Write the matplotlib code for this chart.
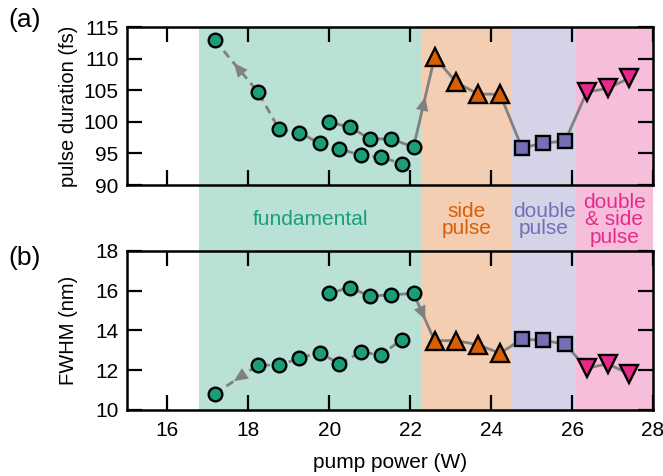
import matplotlib
matplotlib.use("Agg")
import matplotlib.pyplot as plt
import matplotlib.transforms as mtransforms

plt.rcParams['font.family'] = ['Liberation Sans', 'DejaVu Sans']
plt.rcParams['font.size'] = 15

# pump power (W) for each regime; fundamental split in two branches
power_up = [20.0, 20.5, 21.0, 21.53, 22.08]
power_down = [17.17, 18.24, 18.76, 19.26, 19.76, 20.25, 20.77, 21.27, 21.79]
power_side = [22.6, 23.14, 23.67, 24.22]
power_double = [24.76, 25.29, 25.83]
power_dside = [26.36, 26.88, 27.41]

# (a) pulse duration (fs)
dur_up = [99.9, 99.2, 97.3, 97.3, 96.0]
dur_down = [112.9, 104.7, 98.8, 98.3, 96.6, 95.75, 94.7, 94.4, 93.4]
dur_side = [110.2, 106.25, 104.4, 104.35]
dur_double = [95.9, 96.6, 97.0]
dur_dside = [104.7, 105.3, 106.9]

# (b) FWHM (nm)
fwhm_up = [15.87, 16.16, 15.74, 15.79, 15.87]
fwhm_down = [10.81, 12.27, 12.24, 12.61, 12.89, 12.32, 12.91, 12.77, 13.54]
fwhm_side = [13.49, 13.49, 13.28, 12.86]
fwhm_double = [13.56, 13.51, 13.31]
fwhm_dside = [12.1, 12.32, 11.82]

regimes = ["fundamental", "side\npulse", "double\npulse", "double\n& side\npulse"]
regime_edges = [16.79, 22.27, 24.52, 26.09, 28.0]
colors = ["#1b9e77", "#d95f02", "#7570b3", "#e7298a"]
markers = ["o", "^", "s", "v"]
msizes = [9.8, 13, 9.8, 13]

line_col = "#808080"

fig = plt.figure(figsize=(6.63, 4.76), dpi=100)

left, width = 0.1916, 0.7934
bg = fig.add_axes([left, 0.1387, width, 0.9433 - 0.1387], zorder=0)
ax_a = fig.add_axes([left, 0.6113, width, 0.3319], zorder=1)
ax_b = fig.add_axes([left, 0.1387, width, 0.334], zorder=1)

# shaded regimes behind both panels
bg.set_xlim(15, 28)
bg.set_ylim(0, 1)
bg.axis("off")
lbl_trans = mtransforms.blended_transform_factory(bg.transData, fig.transFigure)
for i, name in enumerate(regimes):
    x0, x1 = regime_edges[i], regime_edges[i + 1]
    bg.axvspan(x0, x1, color=colors[i], alpha=0.3, lw=0)
    bg.text((x0 + x1) / 2, 0.538, name, transform=lbl_trans, ha="center",
            va="center", color=colors[i], fontsize=15, linespacing=0.92)


def mid_arrow(ax, x0, y0, x1, y1):
    # arrow head half way along the segment, pointing from point 0 to point 1
    tip = (x0 + 0.56 * (x1 - x0), y0 + 0.56 * (y1 - y0))
    tail = (x0 + 0.3 * (x1 - x0), y0 + 0.3 * (y1 - y0))
    ax.annotate("", xy=tip, xytext=tail, zorder=2,
                arrowprops=dict(arrowstyle="-|>,head_length=1.0,head_width=0.45",
                                mutation_scale=10, color=line_col, lw=0,
                                shrinkA=0, shrinkB=0))


def draw_panel(ax, up, down, side, double, dside):
    solid_x = power_up + power_side + power_double + power_dside
    solid_y = up + side + double + dside
    ax.plot(solid_x, solid_y, color=line_col, lw=2, zorder=2)
    ax.plot(power_down, down, color=line_col, lw=2, ls=(0, (3, 2)), zorder=2)
    mid_arrow(ax, power_down[1], down[1], power_down[0], down[0])
    mid_arrow(ax, power_up[-1], up[-1], power_side[0], side[0])

    groups = [(power_up + power_down, up + down), (power_side, side),
              (power_double, double), (power_dside, dside)]
    for (gx, gy), c, m, s in zip(groups, colors, markers, msizes):
        ax.plot(gx, gy, ls="none", marker=m, ms=s, mfc=c, mec="black",
                mew=1.7, zorder=3)

    ax.set_facecolor("none")
    ax.set_xlim(15, 28)
    ax.set_xticks(range(16, 29, 2))
    for sp in ax.spines.values():
        sp.set_linewidth(1.8)
    ax.tick_params(direction="in", length=11, width=1.6, top=True, right=True)
    ax.tick_params(axis="x", pad=8)
    ax.tick_params(axis="y", pad=6)
    ax.yaxis.set_label_coords(-0.093, 0.5)


draw_panel(ax_a, dur_up, dur_down, dur_side, dur_double, dur_dside)
ax_a.set_ylim(90, 115)
ax_a.set_yticks(range(90, 116, 5))
ax_a.set_xticklabels([])
ax_a.set_ylabel("pulse duration (fs)", fontsize=14.5)

draw_panel(ax_b, fwhm_up, fwhm_down, fwhm_side, fwhm_double, fwhm_dside)
ax_b.set_ylim(10, 18)
ax_b.set_yticks(range(10, 19, 2))
ax_b.set_ylabel("FWHM (nm)", fontsize=14.5)
ax_b.set_xlabel("pump power (W)", labelpad=9)

fig.text(8 / 663, 1 - 20 / 476, "(a)", fontsize=19, va="center", ha="left")
fig.text(8 / 663, 1 - 258 / 476, "(b)", fontsize=19, va="center", ha="left")

fig.savefig("out.png", dpi=100)
